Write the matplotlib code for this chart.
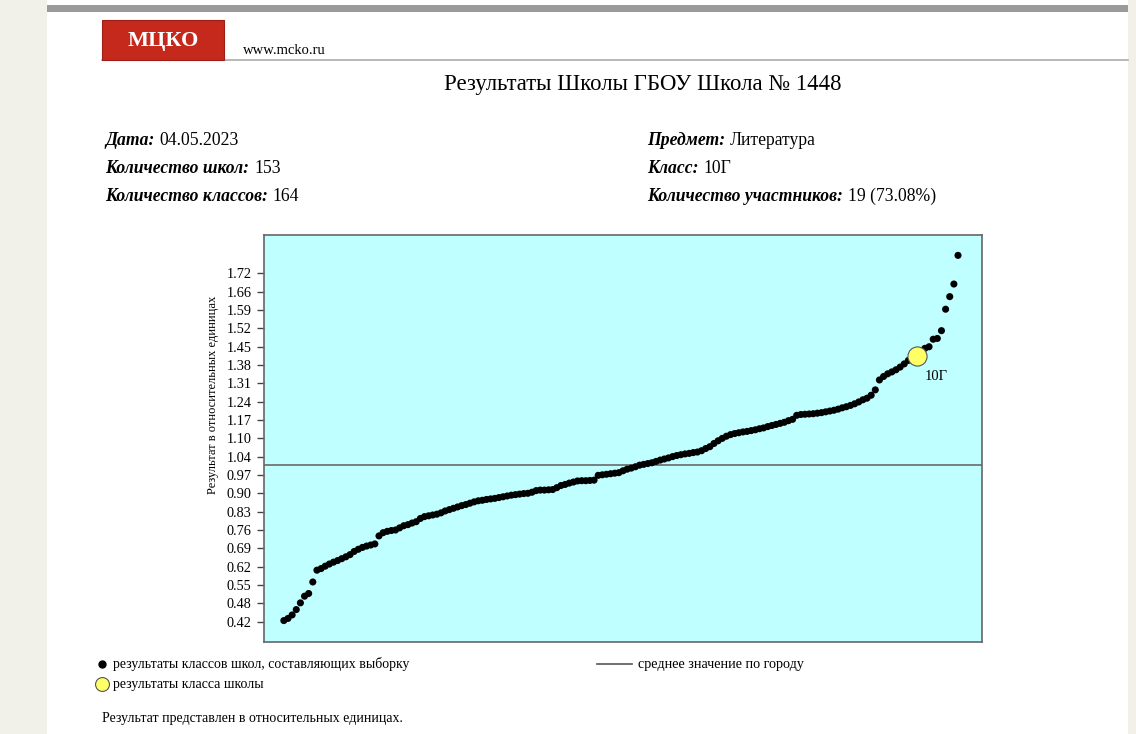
import numpy as np
import matplotlib

matplotlib.use("Agg")
import matplotlib.pyplot as plt
from matplotlib.lines import Line2D
from matplotlib.patches import Rectangle

plt.rcParams["font.family"] = ["Liberation Serif", "DejaVu Serif"]

W, H = 1136, 734

# Results of the 164 classes (relative units), sorted
class_results = [
    0.424, 0.432, 0.445, 0.465, 0.490, 0.515, 0.525, 0.568, 0.612, 0.618,
    0.627, 0.635, 0.642, 0.648, 0.655, 0.662, 0.670, 0.682, 0.690, 0.697,
    0.702, 0.706, 0.710, 0.740, 0.752, 0.757, 0.760, 0.762, 0.770, 0.778,
    0.782, 0.788, 0.793, 0.805, 0.812, 0.815, 0.818, 0.821, 0.826, 0.833,
    0.838, 0.843, 0.848, 0.853, 0.857, 0.862, 0.867, 0.871, 0.873, 0.876,
    0.878, 0.880, 0.883, 0.886, 0.889, 0.892, 0.894, 0.896, 0.898, 0.899,
    0.903, 0.909, 0.911, 0.911, 0.912, 0.913, 0.920, 0.928, 0.932, 0.937,
    0.941, 0.945, 0.946, 0.946, 0.947, 0.948, 0.966, 0.968, 0.970, 0.972,
    0.974, 0.976, 0.983, 0.989, 0.993, 0.998, 1.004, 1.007, 1.010, 1.013,
    1.018, 1.023, 1.027, 1.031, 1.036, 1.040, 1.043, 1.046, 1.048, 1.051,
    1.053, 1.058, 1.066, 1.073, 1.085, 1.095, 1.104, 1.112, 1.118, 1.122,
    1.125, 1.128, 1.130, 1.133, 1.136, 1.140, 1.143, 1.148, 1.152, 1.156,
    1.160, 1.164, 1.170, 1.175, 1.190, 1.193, 1.194, 1.195, 1.196, 1.198,
    1.200, 1.203, 1.206, 1.209, 1.213, 1.218, 1.222, 1.227, 1.233, 1.240,
    1.248, 1.254, 1.265, 1.285, 1.322, 1.335, 1.345, 1.352, 1.360, 1.370,
    1.382, 1.395, 1.403, 1.411, 1.430, 1.440, 1.446, 1.474, 1.477, 1.506,
    1.586, 1.633, 1.680, 1.787,
]
school_rank = 154
school_result = 1.411
school_label = "10Г"
city_mean = 1.005

ytick_labels = ["0.42", "0.48", "0.55", "0.62", "0.69", "0.76", "0.83", "0.90",
                "0.97", "1.04", "1.10", "1.17", "1.24", "1.31", "1.38", "1.45",
                "1.52", "1.59", "1.66", "1.72"]
ytick_values = np.linspace(0.42, 1.72, len(ytick_labels))

info_left = [("Дата:", "04.05.2023"),
             ("Количество школ:", "153"),
             ("Количество классов:", "164")]
info_right = [("Предмет:", "Литература"),
              ("Класс:", "10Г"),
              ("Количество участников:", "19 (73.08%)")]


def fx(x):
    return x / W


def fy(y):
    return 1 - y / H


fig = plt.figure(figsize=(W / 100, H / 100), dpi=100)
fig.patch.set_facecolor("#f1f1ea")

# page sheet, top bar, header rule
fig.add_artist(Rectangle((fx(47), 0), fx(1128 - 47), 1, transform=fig.transFigure,
                         facecolor="white", edgecolor="none", zorder=0))
fig.add_artist(Rectangle((fx(47), fy(12)), fx(1128 - 47), 7 / H, transform=fig.transFigure,
                         facecolor="#9a9a9a", edgecolor="none", zorder=1))
fig.add_artist(Line2D([fx(102), fx(1128)], [fy(59.5), fy(59.5)], transform=fig.transFigure,
                      color="#aaaaaa", lw=1.2))

# logo
fig.add_artist(Rectangle((fx(102), fy(60)), fx(122), 40 / H, transform=fig.transFigure,
                         facecolor="#c4291c", edgecolor="#9e1f15", lw=0.8, zorder=2))
fig.text(fx(163), fy(41), "МЦКО", color="white", fontsize=16, fontweight="bold",
         ha="center", va="center", zorder=3)
fig.text(fx(243), fy(54), "www.mcko.ru", fontsize=10.5, ha="left", va="baseline")

fig.text(fx(643), fy(90), "Результаты Школы ГБОУ Школа № 1448", fontsize=16.4,
         ha="center", va="baseline")

# info block
renderer = fig.canvas.get_renderer()
for x0, rows in ((105, info_left), (647, info_right)):
    for k, (label, value) in enumerate(rows):
        yb = fy(145 + 28 * k)
        t = fig.text(fx(x0), yb, label, fontsize=12.7, fontweight="bold",
                     fontstyle="italic", ha="left", va="baseline")
        bb = t.get_window_extent(renderer)
        fig.text(bb.x1 / W + fx(5), yb, value, fontsize=12.7, ha="left", va="baseline")

# chart
ax = fig.add_axes([fx(264), fy(642), fx(982 - 264), (642 - 235) / H])
ax.set_facecolor("#bfffff")
for s in ax.spines.values():
    s.set_color("#666666")
    s.set_linewidth(1.2)

ranks = np.arange(1, len(class_results) + 1)
ax.axhline(city_mean, color="#6a6a6a", lw=1.2, zorder=1)
ax.scatter(ranks, class_results, s=26, color="black", edgecolors="none", zorder=2)
ax.scatter([school_rank], [school_result], s=190, color="#ffff66",
           edgecolors="#555555", linewidths=0.8, zorder=3)
ax.annotate(school_label, (school_rank, school_result), xytext=(6, -17),
            textcoords="offset points", fontsize=10.5, ha="left", va="baseline")

ax.set_xlim(-3.8, 169.8)
ax.set_ylim(0.344, 1.863)
ax.set_xticks([])
ax.set_yticks(ytick_values)
ax.set_yticklabels(ytick_labels)
ax.tick_params(axis="y", direction="out", length=5, width=1, color="#444444",
               labelsize=10.3, pad=4)
fig.text(fx(213), fy(395), "Результат в относительных единицах", rotation=90,
         fontsize=9, ha="center", va="center")

# legend
fig.add_artist(Line2D([fx(102)], [fy(664)], transform=fig.transFigure, marker="o",
                      markersize=5, color="black", lw=0))
fig.text(fx(113), fy(668), "результаты классов школ, составляющих выборку",
         fontsize=10, ha="left", va="baseline")
fig.add_artist(Line2D([fx(102)], [fy(684)], transform=fig.transFigure, marker="o",
                      markersize=10, markerfacecolor="#ffff66", markeredgecolor="#555555",
                      markeredgewidth=0.8, lw=0))
fig.text(fx(113), fy(688), "результаты класса школы", fontsize=10,
         ha="left", va="baseline")
fig.add_artist(Line2D([fx(597), fx(632)], [fy(664), fy(664)], transform=fig.transFigure,
                      color="#555555", lw=1.2))
fig.text(fx(638), fy(668), "среднее значение по городу", fontsize=10.2,
         ha="left", va="baseline")

fig.text(fx(102), fy(722), "Результат представлен в относительных единицах.",
         fontsize=10, ha="left", va="baseline")

fig.savefig("out.png", dpi=100)
